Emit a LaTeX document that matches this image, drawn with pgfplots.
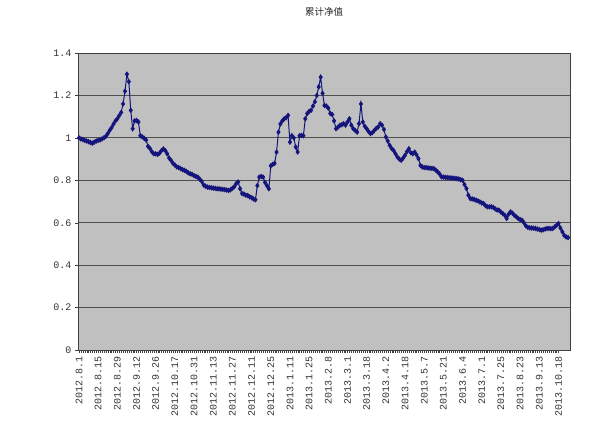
\documentclass[border=0pt]{standalone}
\usepackage{pgfplots}
\pgfplotsset{compat=1.18}
\usepackage{fontspec}
\setmonofont{Liberation Mono}
\newfontfamily\cjk{Noto Sans CJK SC}
\definecolor{plotbg}{RGB}{192,192,192}
\definecolor{gridc}{RGB}{80,80,80}
\definecolor{navyline}{RGB}{20,20,125}
\begin{document}
\begin{tikzpicture}
\path[use as bounding box] (-78pt,-78pt) rectangle (526pt,350pt);
\begin{axis}[
  at={(0,0)}, anchor=south west,
  scale only axis, width=492pt, height=297pt,
  xmin=-0.5, xmax=256, ymin=0, ymax=1.4,
  axis background/.style={fill=plotbg},
  axis line style={draw=black!75},
  ytick={0,0.2,0.4,0.6,0.8,1,1.2,1.4},
  yticklabels={0,0.2,0.4,0.6,0.8,1,1.2,1.4},
  ymajorgrids, major grid style={draw=gridc, line width=0.9pt},
  xtick={0,10,...,250},
  xticklabels={2012.8.1,2012.8.15,2012.8.29,2012.9.12,2012.9.26,2012.10.17,2012.10.31,2012.11.13,2012.11.27,2012.12.11,2012.12.25,2013.1.11,2013.1.25,2013.2.8,2013.3.1,2013.3.18,2013.4.2,2013.4.18,2013.5.7,2013.5.21,2013.6.4,2013.7.1,2013.7.25,2013.8.23,2013.9.13,2013.10.18},
  minor x tick num=9,
  x tick label style={rotate=90, anchor=east, font=\ttfamily\fontsize{10}{10}\selectfont, text=black!80},
  y tick label style={font=\ttfamily\fontsize{10}{10}\selectfont, text=black!80},
  tick style={draw=black!75},
  tick align=outside, major tick length=3pt, minor tick length=2.5pt,
  xtick pos=bottom, ytick pos=left,
  title={\cjk 累计净值},
  title style={at={(0.5,1.118)}, anchor=center, font=\fontsize{9.5}{9.5}\selectfont, text=black!85},
  clip=false,
]
\addplot[navyline, line width=1pt, mark=diamond*, mark size=2pt, mark options={fill=navyline, draw=navyline}] table {
x y
0 1.000
1 0.995
2 0.992
3 0.988
4 0.985
5 0.982
6 0.978
7 0.975
8 0.980
9 0.985
10 0.988
11 0.990
12 0.995
13 1.000
14 1.007
15 1.020
16 1.035
17 1.048
18 1.065
19 1.080
20 1.090
21 1.105
22 1.120
23 1.160
24 1.220
25 1.300
26 1.265
27 1.130
28 1.043
29 1.080
30 1.082
31 1.075
32 1.010
33 1.005
34 0.998
35 0.990
36 0.960
37 0.950
38 0.935
39 0.925
40 0.925
41 0.922
42 0.928
43 0.940
44 0.948
45 0.940
46 0.925
47 0.905
48 0.894
49 0.880
50 0.872
51 0.863
52 0.860
53 0.855
54 0.850
55 0.847
56 0.842
57 0.835
58 0.831
59 0.828
60 0.822
61 0.818
62 0.815
63 0.805
64 0.795
65 0.778
66 0.772
67 0.768
68 0.766
69 0.765
70 0.763
71 0.762
72 0.760
73 0.760
74 0.758
75 0.757
76 0.756
77 0.754
78 0.752
79 0.755
80 0.762
81 0.770
82 0.785
83 0.792
84 0.760
85 0.738
86 0.735
87 0.730
88 0.728
89 0.722
90 0.718
91 0.712
92 0.708
93 0.775
94 0.815
95 0.818
96 0.815
97 0.790
98 0.775
99 0.760
100 0.868
101 0.875
102 0.880
103 0.933
104 1.027
105 1.065
106 1.080
107 1.090
108 1.095
109 1.106
110 0.980
111 1.010
112 1.000
113 0.957
114 0.933
115 1.010
116 1.012
117 1.010
118 1.090
119 1.115
120 1.125
121 1.130
122 1.150
123 1.170
124 1.200
125 1.240
126 1.286
127 1.210
128 1.153
129 1.150
130 1.140
131 1.115
132 1.110
133 1.080
134 1.043
135 1.050
136 1.059
137 1.062
138 1.067
139 1.060
140 1.075
141 1.090
142 1.060
143 1.043
144 1.035
145 1.027
146 1.067
147 1.160
148 1.075
149 1.055
150 1.043
151 1.030
152 1.020
153 1.025
154 1.035
155 1.045
156 1.051
157 1.067
158 1.060
159 1.040
160 1.004
161 0.985
162 0.965
163 0.950
164 0.941
165 0.925
166 0.910
167 0.900
168 0.894
169 0.905
170 0.918
171 0.935
172 0.949
173 0.930
174 0.925
175 0.933
176 0.920
177 0.902
178 0.870
179 0.863
180 0.860
181 0.860
182 0.858
183 0.857
184 0.856
185 0.855
186 0.848
187 0.840
188 0.830
189 0.816
190 0.815
191 0.814
192 0.813
193 0.812
194 0.811
195 0.810
196 0.809
197 0.808
198 0.806
199 0.803
200 0.800
201 0.780
202 0.761
203 0.730
204 0.714
205 0.712
206 0.710
207 0.706
208 0.703
209 0.698
210 0.693
211 0.690
212 0.680
213 0.675
214 0.675
215 0.675
216 0.672
217 0.665
218 0.660
219 0.659
220 0.650
221 0.643
222 0.635
223 0.620
224 0.640
225 0.651
226 0.645
227 0.635
228 0.628
229 0.620
230 0.615
231 0.612
232 0.600
233 0.585
234 0.578
235 0.576
236 0.575
237 0.574
238 0.573
239 0.570
240 0.568
241 0.565
242 0.567
243 0.570
244 0.573
245 0.573
246 0.572
247 0.573
248 0.580
249 0.588
250 0.596
251 0.575
252 0.557
253 0.540
254 0.533
255 0.530
};
\end{axis}
\end{tikzpicture}
\end{document}
